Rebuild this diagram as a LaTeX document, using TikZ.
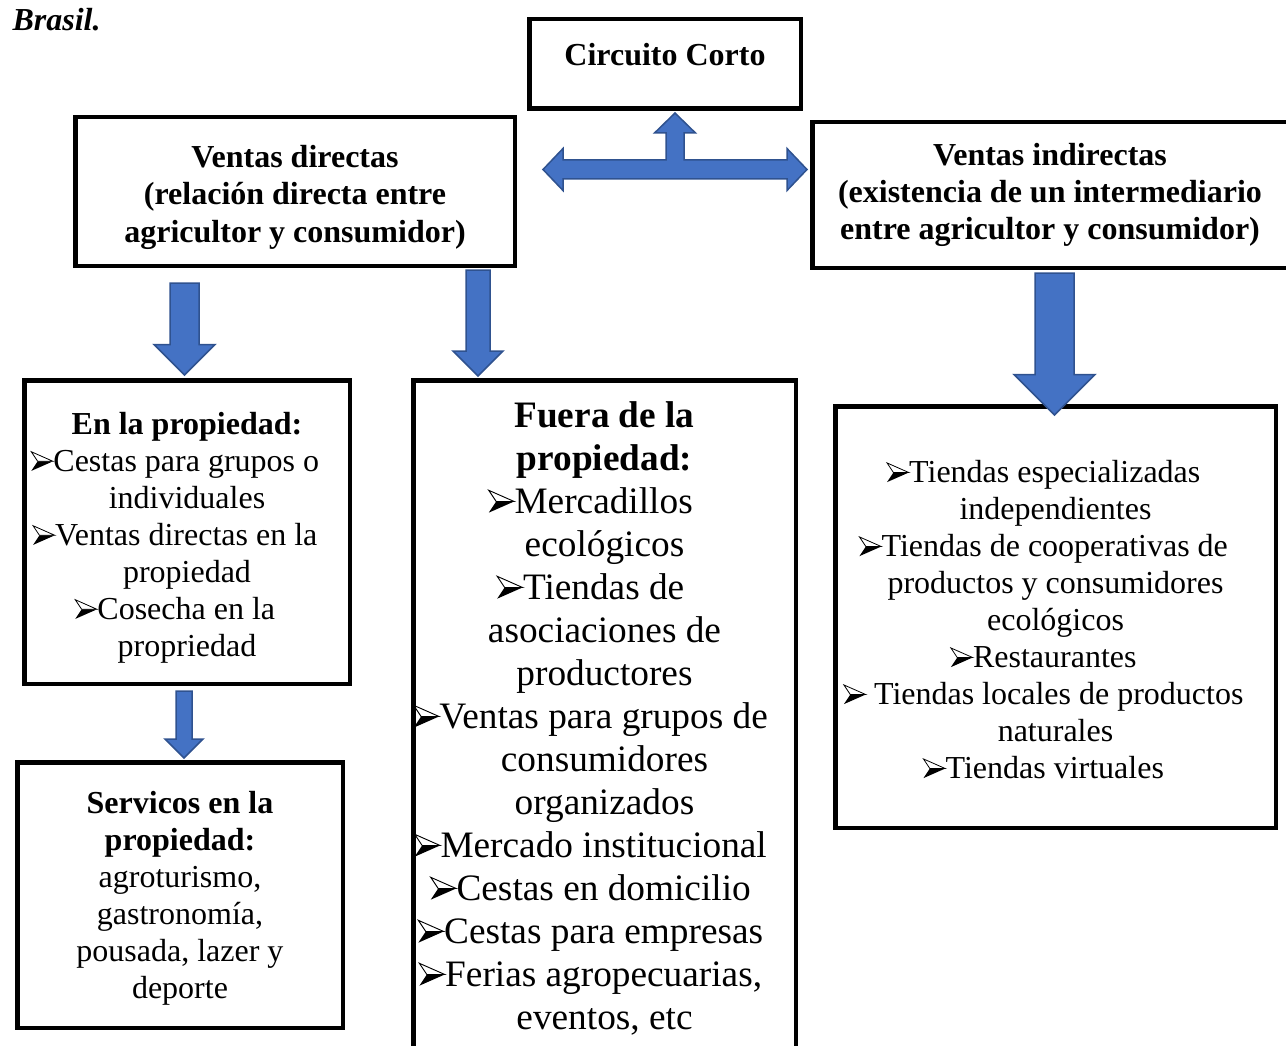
\documentclass[tikz,border=0pt]{standalone}
\usepackage{fontspec}
\setmainfont{Liberation Serif}
\usetikzlibrary{calc}
\definecolor{arrowblue}{HTML}{4472C4}
\definecolor{arrowedge}{HTML}{2F528F}
\newcommand{\bl}{\kern-0.75em\tikz[baseline=0pt,x=1em,y=1em,line width=0.025em,line join=miter]{%
	\fill (0,0.02) -- (0.68,0.32) -- (0.2,0.32) -- cycle;
	\draw (0,0.62) -- (0.68,0.32) -- (0.2,0.32) -- cycle;}}
\newcommand{\tp}[1]{\rule{0pt}{#1em}}
\newcommand{\blkdown}[4]{%
	\filldraw[blkarrow] let \p1=(#1), \p2=(#2) in
		({\x1-#3pt},\y1) -- ({\x1+#3pt},\y1) -- ({\x1+#3pt},{\y2+#4pt}) -- ({\x1+#4pt},{\y2+#4pt})
		-- (\x1,\y2) -- ({\x1-#4pt},{\y2+#4pt}) -- ({\x1-#3pt},{\y2+#4pt}) -- cycle;}

\begin{document}
\begin{tikzpicture}[x=1pt,y=-1pt,
	box/.style={draw,line width=4.5pt,align=center,inner sep=0pt,font=\fontsize{32}{37}\selectfont},
	blkarrow/.style={fill=arrowblue,draw=arrowedge,line width=1.5pt,line join=miter}]

	\useasboundingbox (0,0) rectangle (1286,1046);

	\node[anchor=base west,font=\fontsize{32}{37}\selectfont\bfseries\itshape] (fig) at (9,31) {Brasil.};

	\node[box,font=\fontsize{32}{37}\selectfont\bfseries,minimum width=271.5pt,minimum height=89.5pt,text height=22pt,text depth=18pt] (corto) at (665,64) {Circuito Corto};
	\node[box,font=\fontsize{32}{37.5}\selectfont\bfseries,minimum width=439.5pt,minimum height=148.5pt] (directas) at (295,191.5) {\tp{1.06}Ventas directas\\(relación directa entre\\agricultor y consumidor)};
	\node[box,font=\fontsize{32}{37}\selectfont\bfseries,minimum width=475.5pt,minimum height=145.5pt] (indirectas) at (1050,195) {Ventas indirectas\\(existencia de un intermediario\\entre agricultor y consumidor)};

	\node[box,minimum width=325.5pt,minimum height=303.5pt] (enprop) at (187,532) {\tp{1.06}\textbf{En la propiedad:}\\\bl Cestas para grupos o\\individuales\\\bl Ventas directas en la\\propiedad\\\bl Cosecha en la\\propriedad};
	\node[box,font=\fontsize{37.3}{43}\selectfont,minimum width=382.5pt,minimum height=668.5pt] (fuera) at (604.5,714.5) {\tp{0.9}\textbf{Fuera de la}\\\textbf{propiedad:}\\\bl Mercadillos\\ecológicos\\\bl Tiendas de\\asociaciones de\\productores\\\bl Ventas para grupos de\\consumidores\\organizados\\\bl Mercado institucional\\\bl Cestas en domicilio\\\bl Cestas para empresas\\\bl Ferias agropecuarias,\\eventos, etc};
	\node[box,minimum width=440.5pt,minimum height=421.5pt] (tiendas) at (1055.5,617) {\tp{0.87}\bl Tiendas especializadas\\independientes\\\bl Tiendas de cooperativas de\\productos y consumidores\\ecológicos\\\bl Restaurantes\\\bl\ Tiendas locales de productos\\naturales\\\bl Tiendas virtuales};
	\node[box,minimum width=325.5pt,minimum height=265.5pt] (servicos) at (180,895) {\tp{0.93}\textbf{Servicos en la}\\\textbf{propiedad:}\\agroturismo,\\gastronomía,\\pousada, lazer y\\deporte};

	\filldraw[blkarrow] (543,169.5) -- (563,148.5) -- (563,160) -- (666,160) -- (666,133) -- (654.5,133)
		-- (675,113) -- (695.5,133) -- (684,133) -- (684,160) -- (787,160) -- (787,148.5) -- (807,169.5)
		-- (787,190.5) -- (787,179) -- (563,179) -- (563,190.5) -- cycle;

	\coordinate (s1) at (184.5,283);
	\coordinate (t1) at (184.5,375);
	\coordinate (s2) at (478,270);
	\coordinate (t2) at (478,376);
	\coordinate (s3) at (1054.5,273);
	\coordinate (t3) at (1054.5,415);
	\coordinate (s4) at (184,691);
	\coordinate (t4) at (184,758);

	\blkdown{s1}{t1}{14.5}{30.5}
	\blkdown{s2}{t2}{12}{25}
	\blkdown{s3}{t3}{19.5}{40.5}
	\blkdown{s4}{t4}{8}{19}

\end{tikzpicture}
\end{document}
